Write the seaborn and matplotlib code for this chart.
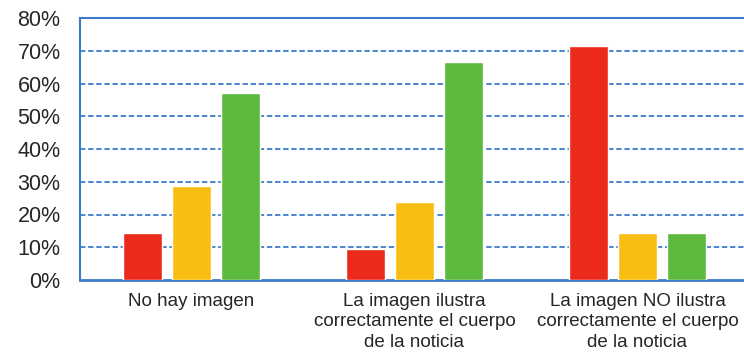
import matplotlib
matplotlib.use("Agg")
import matplotlib.pyplot as plt
import pandas as pd
import seaborn as sns

# categories and the three series (percent)
categorias = [
    "No hay imagen",
    "La imagen ilustra\ncorrectamente el cuerpo\nde la noticia",
    "La imagen NO ilustra\ncorrectamente el cuerpo\nde la noticia",
]
series = ["rojo", "amarillo", "verde"]
rojo = [14.3, 9.5, 71.4]
amarillo = [28.6, 23.8, 14.3]
verde = [57.1, 66.7, 14.3]
yticks = [0, 10, 20, 30, 40, 50, 60, 70, 80]

colores = ["#EC2A1C", "#F9BE14", "#5EBA3E"]
azul = "#3D7CC9"

rows = []
for nombre, valores in zip(series, [rojo, amarillo, verde]):
    for cat, v in zip(categorias, valores):
        rows.append({"categoria": cat, "serie": nombre, "valor": v})
df = pd.DataFrame(rows)

sns.set_style("white")
plt.rcParams["font.family"] = ["Liberation Sans", "DejaVu Sans"]

fig = plt.figure(figsize=(7.44, 3.61), dpi=100)
ax = fig.add_axes([80 / 744, (361 - 280) / 361, 669 / 744, 262 / 361])

sns.barplot(data=df, x="categoria", y="valor", hue="serie", palette=colores,
            hue_order=series, order=categorias, width=0.66, gap=0.2,
            saturation=1, legend=False, ax=ax, zorder=3)

ax.set_ylim(0, 80)
ax.set_xlim(-0.5, 2.5)
ax.set_yticks(yticks)
ax.set_yticklabels([f"{t}%" for t in yticks], fontsize=15.5)
ax.tick_params(axis="y", length=0, pad=14)
ax.tick_params(axis="x", length=0, pad=9, labelsize=13.5)
for lbl in ax.get_xticklabels():
    lbl.set_linespacing(1.28)
ax.set_xlabel("")
ax.set_ylabel("")

for t in yticks[1:-1]:
    ax.axhline(t, color=azul, lw=1.3, linestyle=(0, (3, 1.5)), zorder=1)

for side in ["left", "top", "bottom"]:
    ax.spines[side].set_visible(True)
    ax.spines[side].set_color(azul)
    ax.spines[side].set_linewidth(1.5)
ax.spines["bottom"].set_linewidth(2)
ax.spines["right"].set_visible(False)

fig.savefig("out.png", dpi=100, facecolor="white")
